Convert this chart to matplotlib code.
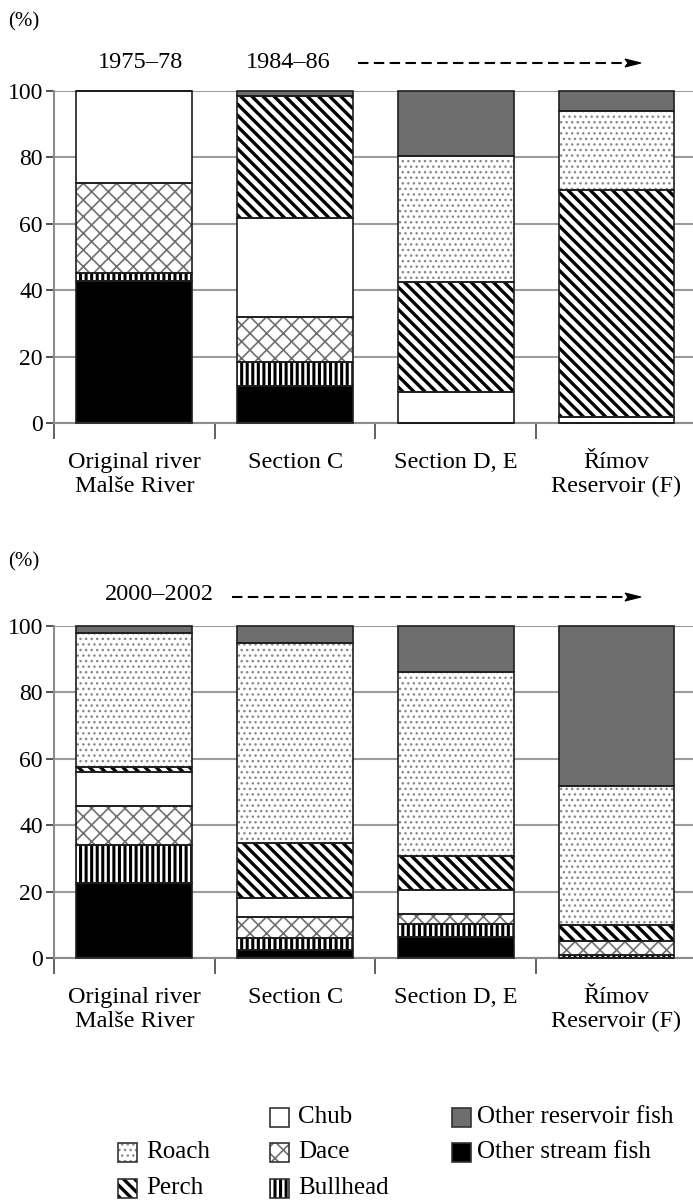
import matplotlib.pyplot as plt
import numpy as np
from matplotlib.patches import Rectangle, Polygon
from matplotlib.lines import Line2D

plt.rcParams['font.family'] = ['Liberation Serif', 'DejaVu Serif']

W, H = 693, 1203

categories = ['Original river\nMalše River', 'Section C', 'Section D, E', 'Římov\nReservoir (F)']
species = ['Other stream fish', 'Bullhead', 'Dace', 'Chub', 'Perch', 'Roach', 'Other reservoir fish']

# 1975-78 / 1984-86, % from bottom to top of each bar
top_stream = [42.8, 11.2, 0, 0]
top_bullhead = [2.3, 7.2, 0, 0]
top_dace = [27.1, 13.4, 0, 0]
top_chub = [27.8, 29.8, 9.2, 1.7]
top_perch = [0, 36.9, 33.4, 68.4]
top_roach = [0, 0, 37.7, 23.9]
top_reservoir = [0, 1.5, 19.7, 6.0]

# 2000-2002
bot_stream = [22.7, 2.3, 6.3, 0]
bot_bullhead = [11.3, 3.7, 3.9, 1.0]
bot_dace = [11.8, 6.2, 3.1, 4.0]
bot_chub = [10.2, 5.8, 7.2, 0]
bot_perch = [1.5, 16.7, 10.3, 5.0]
bot_roach = [40.5, 60.3, 55.4, 41.7]
bot_reservoir = [2.0, 5.0, 13.8, 48.3]

top_data = [top_stream, top_bullhead, top_dace, top_chub, top_perch, top_roach, top_reservoir]
bot_data = [bot_stream, bot_bullhead, bot_dace, bot_chub, bot_perch, bot_roach, bot_reservoir]

# face, hatch, hatch colour, hatch linewidth
styles = {
    'Other stream fish': ('black', None, 'black', 1.0),
    'Bullhead': ('white', '|||', 'black', 2.2),
    'Dace': ('white', 'xx', '#707070', 1.2),
    'Chub': ('white', None, 'white', 1.0),
    'Perch': ('white', '\\\\\\', 'black', 2.4),
    'Roach': ('white', '...', '#888888', 1.0),
    'Other reservoir fish': ('#6e6e6e', None, '#6e6e6e', 1.0),
}
edge = '#1e1e1e'


def px(x, y):
    return x / W, 1 - y / H


def set_hlw(patch, lw):
    if hasattr(patch, 'set_hatch_linewidth'):
        patch.set_hatch_linewidth(lw)


def draw_panel(ax, data):
    x = np.arange(len(categories))
    bottom = np.zeros(len(categories))
    for name, vals in zip(species, data):
        face, hatch, hc, hlw = styles[name]
        vals = np.array(vals)
        bars = ax.bar(x, vals, 0.72, bottom=bottom, color=face, edgecolor=hc,
                      linewidth=0, hatch=hatch, zorder=2)
        for b in bars:
            set_hlw(b, hlw)
        ax.bar(x, vals, 0.72, bottom=bottom, fill=False, edgecolor=edge,
               linewidth=1.2, zorder=3, clip_on=False)
        bottom += vals

    ax.set_xlim(-0.5, 3.476)
    ax.set_ylim(0, 100)
    ax.set_yticks(range(0, 101, 20))
    ax.yaxis.grid(True, color='#9c9c9c', linewidth=1.5)
    ax.set_axisbelow(True)
    for s in ['top', 'right']:
        ax.spines[s].set_visible(False)
    for s in ['left', 'bottom']:
        ax.spines[s].set_color('#8c8c8c')
        ax.spines[s].set_linewidth(1.5)
    ax.tick_params(axis='y', length=6, width=1.3, color='#444444', labelsize=17, pad=2)
    ax.set_xticks(x)
    ax.set_xticklabels(categories, fontsize=17.5, linespacing=1.17)
    ax.set_xticks([-0.5, 0.5, 1.5, 2.5], minor=True)
    ax.tick_params(axis='x', which='major', length=0, pad=21)
    ax.tick_params(axis='x', which='minor', length=11.5, width=1.3, color='#555555')


fig = plt.figure(figsize=(W / 100, H / 100), dpi=100)

ax1 = fig.add_axes([54 / W, (H - 423) / H, (W - 54) / W, 332 / H])
draw_panel(ax1, top_data)
ax2 = fig.add_axes([54 / W, (H - 958) / H, (W - 54) / W, 332 / H])
draw_panel(ax2, bot_data)

# unit labels and periods
fig.text(*px(24, 22), '(%)', fontsize=15, ha='center', va='center')
fig.text(*px(24, 562), '(%)', fontsize=15, ha='center', va='center')
fig.text(*px(140, 62), '1975–78', fontsize=17.5, ha='center', va='center')
fig.text(*px(288, 62), '1984–86', fontsize=17.5, ha='center', va='center')
fig.text(*px(159, 594), '2000–2002', fontsize=17.5, ha='center', va='center')


def dashed_arrow(x0, x1, y):
    (a, b), (c, _) = px(x0, y), px(x1 - 12, y)
    fig.add_artist(Line2D([a, c], [b, b], color='black', linewidth=1.5,
                          linestyle=(0, (5, 2.6))))
    head = [px(x1 - 16, y - 4), px(x1, y), px(x1 - 16, y + 4), px(x1 - 13, y)]
    fig.add_artist(Polygon(head, closed=True, facecolor='black', edgecolor='black',
                           linewidth=0.8, transform=fig.transFigure))


dashed_arrow(358, 641, 63)
dashed_arrow(232, 641, 597)

# legend
legend_items = [
    ('Roach', 118, 146, 1152),
    ('Perch', 118, 146, 1188),
    ('Chub', 270, 298, 1117),
    ('Dace', 270, 298, 1152),
    ('Bullhead', 270, 298, 1188),
    ('Other reservoir fish', 452, 477, 1117),
    ('Other stream fish', 452, 477, 1152),
]
for name, bx, tx, yc in legend_items:
    face, hatch, hc, hlw = styles[name]
    x0, y0 = px(bx, yc + 9.5)
    r = Rectangle((x0, y0), 19 / W, 19 / H, transform=fig.transFigure,
                  facecolor=face, edgecolor=hc, linewidth=0, hatch=hatch)
    set_hlw(r, hlw)
    fig.add_artist(r)
    fig.add_artist(Rectangle((x0, y0), 19 / W, 19 / H, transform=fig.transFigure,
                             fill=False, edgecolor='#333333', linewidth=1.2))
    fig.text(*px(tx, yc), name, fontsize=18, ha='left', va='center')

fig.savefig('out.png', dpi=100)
